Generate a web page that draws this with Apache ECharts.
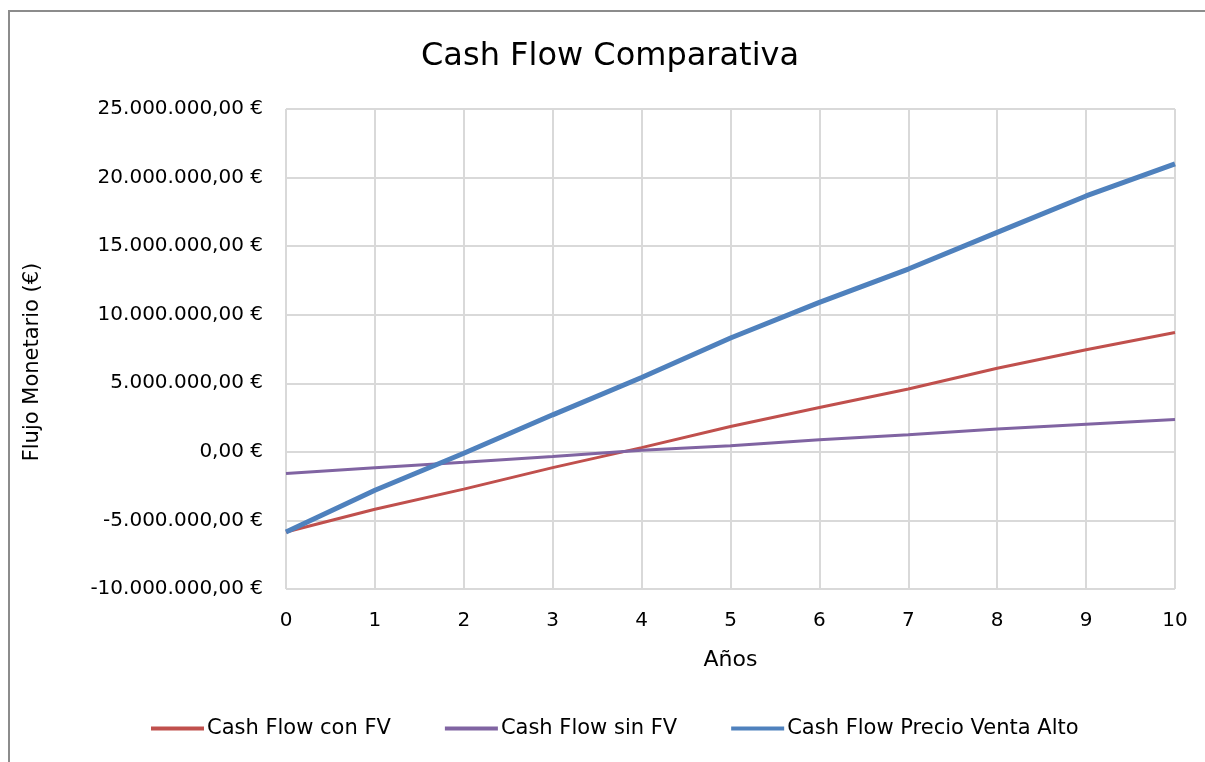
<!DOCTYPE html>
<html>
<head>
<meta charset="utf-8">
<script src="https://cdn.jsdelivr.net/npm/echarts@6/dist/echarts.min.js"></script>
<style>
  html, body { margin: 0; padding: 0; background: #fff; overflow: hidden; }
  #frame { position: absolute; left: 8px; top: 10px; width: 1300px; height: 900px; border: 2px solid #8c8c8c; box-sizing: border-box; }
  #main { position: absolute; left: 0; top: 0; width: 1205px; height: 762px; }
</style>
</head>
<body>
<div id="frame"></div>
<div id="main"></div>
<script>
// años 0..10
var years = [0, 1, 2, 3, 4, 5, 6, 7, 8, 9, 10];
var conFV = [-5840000, -4180000, -2720000, -1150000, 310000, 1850000, 3230000, 4580000, 6100000, 7440000, 8710000];
var sinFV = [-1580000, -1150000, -750000, -340000, 120000, 440000, 880000, 1240000, 1660000, 2020000, 2360000];
var precioAlto = [-5840000, -2800000, -100000, 2700000, 5420000, 8300000, 10900000, 13330000, 16000000, 18660000, 21000000];
var seriesNames = ['Cash Flow con FV', 'Cash Flow sin FV', 'Cash Flow Precio Venta Alto'];

function euro(v) {
  var neg = v < 0;
  var s = Math.abs(v).toFixed(2).split('.');
  var ent = s[0].replace(/\B(?=(\d{3})+(?!\d))/g, '.');
  return (neg ? '-' : '') + ent + ',' + s[1] + ' €';
}
function pairs(arr) {
  return years.map(function (y, i) { return [y, arr[i]]; });
}

var font = 'DejaVu Sans, sans-serif';
var chart = echarts.init(document.getElementById('main'));
var option = {
  animation: false,
  textStyle: { fontFamily: font },
  title: {
    text: 'Cash Flow Comparativa',
    left: 416,
    top: 36,
    textStyle: { fontSize: 32, fontWeight: 'normal', color: '#000', fontFamily: font }
  },
  legend: {
    bottom: 18,
    left: 146,
    itemWidth: 53,
    itemHeight: 4,
    itemGap: 54,
    icon: 'rect',
    textStyle: { fontSize: 21, color: '#000', padding: [0, 0, 0, -2] },
    data: seriesNames
  },
  grid: { left: 286, right: 30, top: 109, bottom: 173 },
  xAxis: {
    type: 'value',
    min: 0, max: 10, interval: 1,
    name: 'Años',
    nameLocation: 'middle',
    nameGap: 60,
    nameTextStyle: { fontSize: 22, color: '#000' },
    axisLine: { show: false },
    axisTick: { show: false },
    axisLabel: { fontSize: 20, color: '#000', margin: 22 },
    splitLine: { show: true, lineStyle: { color: '#d9d9d9', width: 2 } }
  },
  yAxis: {
    type: 'value',
    min: -10000000, max: 25000000, interval: 5000000,
    name: 'Flujo Monetario (€)',
    nameLocation: 'middle',
    nameGap: 243,
    nameTextStyle: { fontSize: 21, color: '#000', padding: [0, 26, 0, 0] },
    axisLine: { show: false },
    axisTick: { show: false },
    axisLabel: { fontSize: 20, color: '#000', margin: 23, formatter: euro },
    splitLine: { show: true, lineStyle: { color: '#d9d9d9', width: 2 } }
  },
  series: [
    { name: seriesNames[0], type: 'line', data: pairs(conFV), showSymbol: false, symbol: 'none',
      lineStyle: { color: '#C0504D', width: 3 }, itemStyle: { color: '#C0504D' } },
    { name: seriesNames[1], type: 'line', data: pairs(sinFV), showSymbol: false, symbol: 'none',
      lineStyle: { color: '#8064A2', width: 3 }, itemStyle: { color: '#8064A2' } },
    { name: seriesNames[2], type: 'line', data: pairs(precioAlto), showSymbol: false, symbol: 'none',
      lineStyle: { color: '#4F81BD', width: 5 }, itemStyle: { color: '#4F81BD' } }
  ]
};
chart.setOption(option);
</script>
</body>
</html>
